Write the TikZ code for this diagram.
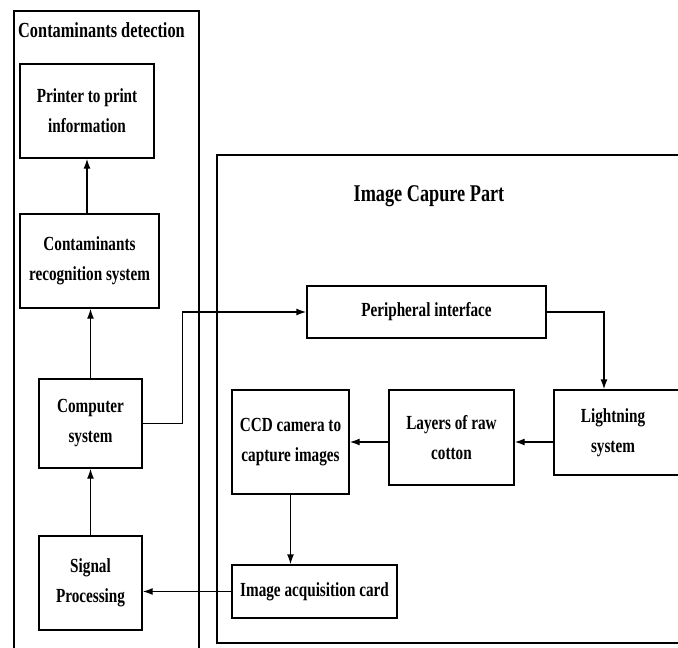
\documentclass[tikz,border=0pt]{standalone}
\usepackage{fontspec}
\setmainfont{Liberation Serif}[FakeStretch=0.76]
\usetikzlibrary{arrows.meta}
\begin{document}
\begin{tikzpicture}[x=1pt,y=-1pt,
  box/.style={draw,line width=1.4pt,inner sep=0pt,align=center,
    font=\bfseries\fontsize{20}{30}\selectfont},
  arr/.style={line width=1.4pt,-{Latex[length=10pt,width=7pt]}},
  frame/.style={draw,line width=1.3pt}]
\useasboundingbox (0,0) rectangle (678,648);
\clip (0,0) rectangle (678,648);
\fill[white] (0,0) rectangle (678,648);

% outer frames
\draw[frame] (14,670) -- (14,11) -- (199,11) -- (199,670);
\draw[frame] (690,155) -- (217,155) -- (217,643) -- (690,643);

\node[anchor=west,inner sep=0pt,font=\bfseries\fontsize{21.5}{24}\selectfont] (ttl) at (18,30) {Contaminants detection};
\node[font=\bfseries\fontsize{24}{28}\selectfont] (ttr) at (429,196) {Image Capure Part};

% left column
\node[box,minimum width=134pt,minimum height=94pt] (printer) at (87,111) {Printer to print\\information};
\node[box,minimum width=139pt,minimum height=94pt] (recog) at (89.5,261) {Contaminants\\recognition system};
\node[box,minimum width=103pt,minimum height=89pt] (comp) at (90.5,423.5) {Computer\\system};
\node[box,minimum width=103pt,minimum height=94pt] (signal) at (90.5,583) {Signal\\Processing};

% image capture part
\node[box,minimum width=239pt,minimum height=52pt] (periph) at (426.5,312) {Peripheral interface};
\node[box,minimum width=128pt,minimum height=85pt,text width=128pt] (light) at (618,432.5) {\hspace*{-10pt}Lightning\\\hspace*{-10pt}system};
\node[box,minimum width=125pt,minimum height=95pt] (layers) at (451.5,437.5) {Layers of raw\\cotton};
\node[box,minimum width=117pt,minimum height=104pt] (ccd) at (290.5,442) {CCD camera to\\capture images};
\node[box,minimum width=165pt,minimum height=53pt] (acq) at (314.5,591.5) {Image acquisition card};

% connectors
\draw[arr] (printer.south |- recog.north) -- (printer.south);
\draw[arr] (comp.north) -- (comp.north |- recog.south);
\draw[arr] (signal.north) -- (comp.south);
\draw[arr] (comp.east) -- ++(40,0) |- (periph.west);
\draw[arr] (periph.east) -| ([xshift=-14pt]light.north);
\draw[arr] (light.west |- ccd.east) -- (layers.east |- ccd.east);
\draw[arr] (layers.west |- ccd.east) -- (ccd.east);
\draw[arr] (ccd.south) -- (ccd.south |- acq.north);
\draw[arr] (acq.west) -- (acq.west -| signal.east);
\end{tikzpicture}
\end{document}
